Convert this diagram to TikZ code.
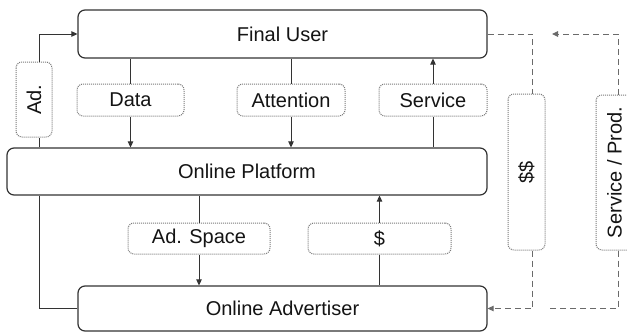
\documentclass[tikz,border=0pt]{standalone}
\usepackage{fontspec}
\setmainfont{Liberation Sans}
\usetikzlibrary{arrows.meta,calc}
\definecolor{lineC}{HTML}{333333}
\definecolor{dotC}{HTML}{7A7A7A}
\definecolor{dashC}{HTML}{6A6A6A}
\definecolor{txtC}{HTML}{141414}
\begin{document}
\begin{tikzpicture}[x=1pt,y=-1pt,
  mainbox/.style={draw=lineC, line width=1.2pt, rounded corners=7pt, fill=white, inner sep=0pt, text=txtC, font=\fontsize{20}{24}\selectfont},
  lblbox/.style={draw=dotC, densely dotted, line width=1pt, rounded corners=6pt, fill=white, inner sep=0pt, text=txtC, font=\fontsize{20}{24}\selectfont},
  conn/.style={draw=lineC, line width=1pt},
  arr/.style={-{Triangle[length=6pt,width=5.5pt]}},
  dl/.style={draw=dashC, line width=1pt, dash pattern=on 6pt off 4pt}
]
\useasboundingbox (0,0) rectangle (627,332);
\fill[white] (0,0) rectangle (627,332);

% main boxes
\node[mainbox, minimum width=409pt, minimum height=48pt] (fu) at (282.5,34) {Final User};
\node[mainbox, minimum width=480pt, minimum height=47pt] (op) at (247,171.5) {Online Platform};
\node[mainbox, minimum width=409pt, minimum height=45pt] (oa) at (282.5,308.5) {Online Advertiser};

% label boxes
\node[lblbox, rotate=90, minimum width=75pt, minimum height=36pt] (ad) at (34,99.5) {Ad.};
\node[lblbox, minimum width=107pt, minimum height=32pt] (data) at (130.5,100) {Data};
\node[lblbox, minimum width=108pt, minimum height=32pt] (att) at (291,100) {Attention};
\node[lblbox, minimum width=108pt, minimum height=32pt] (serv) at (433,100) {Service};
\node[lblbox, minimum width=142pt, minimum height=31pt] (space) at (199,238.5) {Ad. Space};
\node[lblbox, minimum width=143pt, minimum height=31pt] (usd) at (379.5,238.5) {\$};
\node[lblbox, rotate=90, minimum width=156pt, minimum height=37pt] (dd) at (526.5,172) {\$\$};
\node[lblbox, rotate=90, minimum width=155pt, minimum height=37pt] (sp) at (614.5,172.5) {Service / Prod.};

% solid connectors
\draw[conn] (data.north) -- (data.north |- fu.south);
\draw[conn,arr] (data.south) -- (data.south |- op.north);
\draw[conn] (att.north) -- (att.north |- fu.south);
\draw[conn,arr] (att.south) -- (att.south |- op.north);
\draw[conn] (serv.south) -- (serv.south |- op.north);
\draw[conn,arr] (serv.north) -- (serv.north |- fu.south);
\draw[conn] (space.north) -- (space.north |- op.south);
\draw[conn,arr] (space.south) -- (space.south |- oa.north);
\draw[conn] (usd.south) -- (usd.south |- oa.north);
\draw[conn,arr] (usd.north) -- (usd.north |- op.south);

% ad loop
\coordinate (adbot) at ($(ad.west)+(5,0)$);
\coordinate (adtop) at ($(ad.east)+(5,0)$);
\draw[conn] (oa.west) -| (op.south -| adbot);
\draw[conn] (op.north -| adbot) -- (adbot);
\draw[conn,arr] (adtop) |- (fu.west);

% dashed money / product flows
\coordinate (ddtop) at ($(dd.east)+(6,0)$);
\coordinate (ddbot) at ($(dd.west)+(6,0)$);
\draw[dl] (fu.east) -| (ddtop);
\draw[dl,arr] (ddbot) |- (oa.east);
\coordinate (sptop) at ($(sp.east)+(3.5,0)$);
\coordinate (spbot) at ($(sp.west)+(3.5,0)$);
\coordinate (fuend) at (552,34);
\coordinate (oaend) at (549,308.5);
\draw[dl,arr] (sptop) |- (fuend);
\draw[dl] (spbot) |- (oaend);
\end{tikzpicture}
\end{document}
